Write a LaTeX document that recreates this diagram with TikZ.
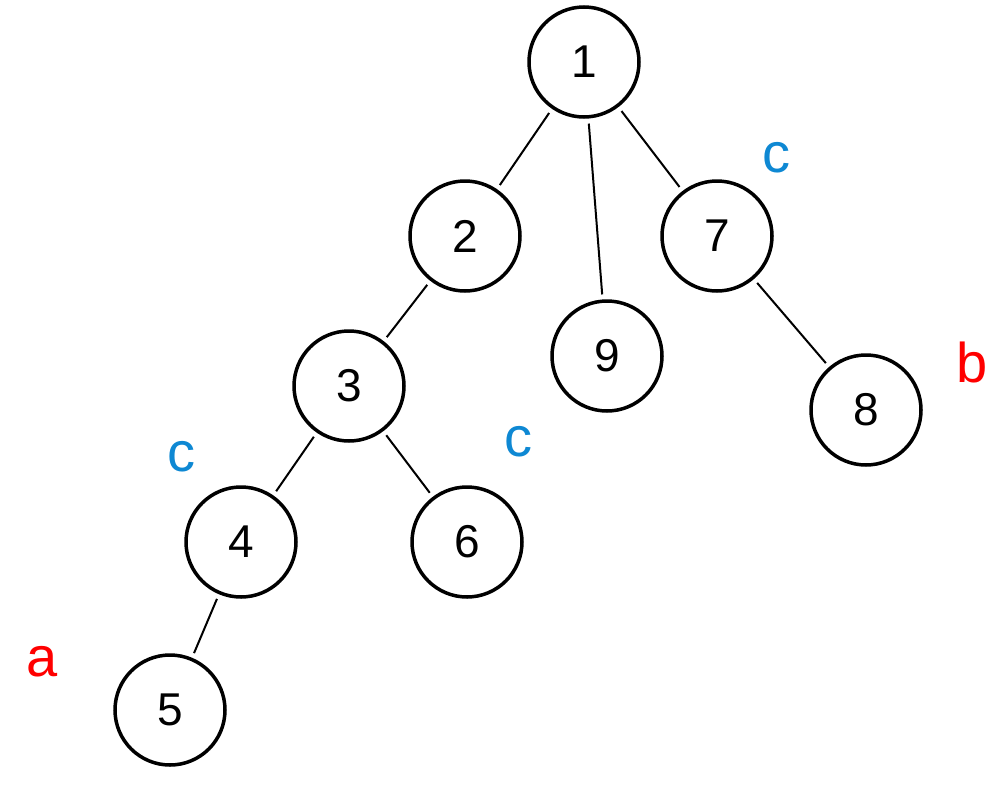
\documentclass[tikz,border=0pt]{standalone}
\usepackage{fontspec}
\setmainfont{Liberation Sans}
\begin{document}
\begin{tikzpicture}[x=1pt,y=-1pt,
  vert/.style={circle,draw=black,line width=3.5pt,minimum size=110pt,inner sep=0pt,font=\fontsize{46}{46}\selectfont},
  edge/.style={line width=2pt,shorten <=5pt,shorten >=5pt},
  bluec/.style={text=cyan!70!blue,font=\fontsize{56}{56}\selectfont},
  redl/.style={text=red,font=\fontsize{56}{56}\selectfont}]
\useasboundingbox (0,0) rectangle (995,806);
\node[vert] (n1) at (584,62) {1};
\node[vert] (n2) at (465,236) {2};
\node[vert] (n7) at (717,236) {7};
\node[vert] (n9) at (607,356) {9};
\node[vert] (n3) at (349,386) {3};
\node[vert] (n8) at (866,410) {8};
\node[vert] (n4) at (241,542) {4};
\node[vert] (n6) at (467,542) {6};
\node[vert] (n5) at (170,710) {5};
\draw[edge] (n1) -- (n2);
\draw[edge] (n1) -- (n9);
\draw[edge] (n1) -- (n7);
\draw[edge] (n2) -- (n3);
\draw[edge] (n7) -- (n8);
\draw[edge] (n3) -- (n4);
\draw[edge] (n3) -- (n6);
\draw[edge] (n4) -- (n5);
\node[bluec] (c1) at (776,158) {c};
\node[bluec] (c2) at (181,457) {c};
\node[bluec] (c3) at (518,442) {c};
\node[redl] (la) at (42,662) {a};
\node[redl] (lb) at (972,362) {b};
\end{tikzpicture}
\end{document}
